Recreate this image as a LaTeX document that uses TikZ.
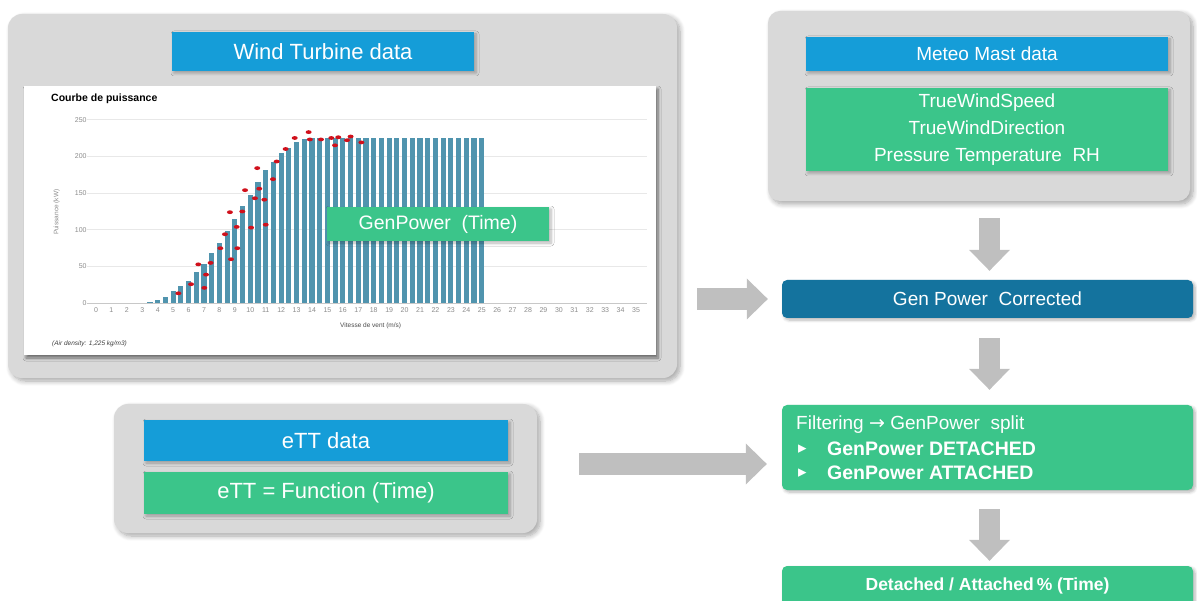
\documentclass[tikz,border=0pt]{standalone}
\usepackage{fontspec}
\setmainfont{Liberation Sans}
\newfontfamily\djv{DejaVu Sans}
\usetikzlibrary{arrows.meta,shadows.blur,calc}
\definecolor{cgrey}{HTML}{D9D9D9}
\definecolor{cblue}{HTML}{159DD8}
\definecolor{cgreen}{HTML}{3BC58A}
\definecolor{cdark}{HTML}{14739E}
\definecolor{carrow}{HTML}{BFBFBF}
\definecolor{cbar}{HTML}{5094AE}
\definecolor{cdot}{HTML}{D0101B}
\definecolor{cgrid}{HTML}{E8E8E8}
\definecolor{caxis}{HTML}{C8C8C8}
\definecolor{ctick}{HTML}{8C8C8C}
\begin{document}
\begin{tikzpicture}[x=1pt,y=-1pt,
  container/.style={fill=cgrey, draw=none, rounded corners=14pt, inner sep=0pt,
    blur shadow={shadow xshift=3pt, shadow yshift=-3pt, shadow blur radius=5pt, shadow blur steps=8, shadow opacity=35}},
  panel/.style={fill=white, draw=none, inner sep=0pt,
    blur shadow={shadow xshift=2pt, shadow yshift=-3pt, shadow blur radius=3pt, shadow blur steps=6, shadow opacity=50}},
  boxbase/.style={draw=none, inner sep=0pt, text=white, align=center,
    blur shadow={shadow xshift=2pt, shadow yshift=-2pt, shadow blur radius=3pt, shadow blur steps=6, shadow opacity=30}},
  bluebox/.style={boxbase, fill=cblue},
  greenbox/.style={boxbase, fill=cgreen},
  darkbox/.style={boxbase, fill=cdark, rounded corners=5pt},
  greenround/.style={boxbase, fill=cgreen, rounded corners=5pt},
  blockarrow/.style={draw=carrow, line width=21.5pt,
    -{Triangle[length=21pt, width=41pt, line width=0pt]}},
  ticklab/.style={font=\fontsize{7}{8}\selectfont, text=ctick, inner sep=0pt},
  reddot/.style={fill=cdot},
  bar/.style={fill=cbar},
]
\useasboundingbox (0,0) rectangle (1197,601);
\clip (0,0) rectangle (1197,601);

% containers
\node[container, minimum width=669pt, minimum height=364pt] (wt) at (342.5,196) {};
\node[container, minimum width=422pt, minimum height=190pt, rounded corners=12pt] (meteo) at (979,106) {};
\node[container, minimum width=423pt, minimum height=129pt] (ett) at (325.5,468.5) {};

% wind turbine
\node[bluebox, minimum width=302pt, minimum height=39pt, font=\fontsize{22}{26}\selectfont] (wtt) at (323,51.5) {Wind Turbine data};
\node[panel, minimum width=632pt, minimum height=269pt] (chart) at (340,220.5) {};
\node[anchor=west, inner sep=0pt, font=\fontsize{10.5}{12}\selectfont\bfseries] (ctitle) at (51,98.5) {Courbe de puissance};
\node[anchor=west, inner sep=0pt, text=black!75, font=\fontsize{6.5}{8}\selectfont\itshape] (air) at (52,344) {(Air density: 1,225 kg/m3)};

\begin{scope}[shift={(96,303.3)}, x=15.43pt, y=0.7347pt]
  \foreach \v in {50,100,...,250} \draw[cgrid, line width=0.7pt] (-0.6,\v) -- (35.7,\v);
  \foreach \h [count=\i from 0] in {1.4,4.5,9,17,24,31,42,53,68,82,99,115,132,148,165,181,193,205,212,219,223,225,
      225,225,225,225,225,225,225,225,225,225,225,225,225,225,225,225,225,225,225,225,225,225}
    \fill[bar] ({3.5+0.5*\i-0.165},0) rectangle ++(0.33,\h);
  \draw[caxis, line width=0.7pt] (-0.6,0) -- (35.7,0);
  \foreach \i in {0,...,35} \node[ticklab] (xt\i) at (\i,-9.5) {\i};
  \foreach \v in {0,50,...,250} \node[ticklab, anchor=east] (yt\v) at (-0.6,\v) {\v};
  \node[ticklab, rotate=90, font=\fontsize{6.5}{8}\selectfont] (ylab) at (-2.55,124) {Puissance (kW)};
  \node[ticklab, font=\fontsize{6.5}{8}\selectfont, text=black!70] (xlab) at (17.8,-31) {Vitesse de vent (m/s)};
  \foreach \a/\b in {5.34/13.6, 6.16/26, 6.63/53, 7.02/21, 7.13/39, 7.43/55, 8.06/75, 8.36/94,
      8.68/124, 8.75/60, 9.12/104, 9.16/75, 9.48/125, 9.66/154, 10.05/103, 10.3/143, 10.45/184,
      10.58/156, 10.91/141, 11.0/107, 11.47/169, 11.71/193, 12.29/210, 12.88/225, 13.78/233,
      13.86/223, 14.58/223, 15.25/225, 15.49/215, 15.7/226, 16.27/222, 16.5/227, 17.2/219}
    \fill[reddot] (\a,\b) ellipse [x radius=3pt, y radius=1.9pt];
\end{scope}

\node[greenbox, minimum width=222pt, minimum height=34pt, font=\fontsize{19.5}{22}\selectfont] (gpt) at (438,224) {GenPower~ (Time)};

% meteo
\node[bluebox, minimum width=362pt, minimum height=34pt, font=\fontsize{19}{22}\selectfont] (mmd) at (987,54) {Meteo Mast data};
\node[greenbox, minimum width=362pt, minimum height=83pt, font=\fontsize{19}{27}\selectfont] (mmv) at (987,129.5) {TrueWindSpeed\\TrueWindDirection\\Pressure Temperature~ RH};

% eTT
\node[bluebox, minimum width=364pt, minimum height=41pt, font=\fontsize{22}{26}\selectfont] (etd) at (326,440.5) {eTT data};
\node[greenbox, minimum width=364pt, minimum height=42pt, font=\fontsize{22}{26}\selectfont] (etf) at (326,493) {eTT = Function (Time)};

% right column
\node[darkbox, minimum width=411pt, minimum height=38pt, font=\fontsize{19}{22}\selectfont] (gpc) at (987.5,299) {Gen Power~ Corrected};
\node[greenround, minimum width=411pt, minimum height=85pt] (filt) at (987.5,447.5) {};
\node[anchor=west, inner sep=0pt, text=white, font=\fontsize{19}{22}\selectfont] (f1) at (796,425) {Filtering {\djv\fontsize{19}{22}\selectfont →} GenPower~ split};
\node[anchor=west, inner sep=0pt, text=white, font=\fontsize{17}{20}\selectfont\djv] (b1) at (798,449.5) {▸};
\node[anchor=west, inner sep=0pt, text=white, font=\fontsize{19.5}{22}\selectfont\bfseries] (f2) at (827,449) {GenPower DETACHED};
\node[anchor=west, inner sep=0pt, text=white, font=\fontsize{17}{20}\selectfont\djv] (b2) at (798,473.5) {▸};
\node[anchor=west, inner sep=0pt, text=white, font=\fontsize{19.5}{22}\selectfont\bfseries] (f3) at (827,473) {GenPower ATTACHED};
\node[greenround, minimum width=411pt, minimum height=40pt, font=\fontsize{17.5}{20}\selectfont\bfseries] (res) at (987.5,586) {Detached / Attached\,\% (Time)};

% arrows
\coordinate (a1s) at ($(wt.east |- gpc.west)+(20,0)$);
\coordinate (a1e) at ($(gpc.west)+(-14,0)$);
\draw[blockarrow] (a1s) -- (a1e);
\coordinate (d1s) at ($(gpc.north |- meteo.south)+(2,17)$);
\coordinate (d1e) at ($(gpc.north)+(2,-9)$);
\draw[blockarrow] (d1s) -- (d1e);
\coordinate (d2s) at ($(gpc.south)+(2,20)$);
\coordinate (d2e) at ($(filt.north)+(2,-15)$);
\draw[blockarrow] (d2s) -- (d2e);
\coordinate (d3s) at ($(filt.south)+(2,19)$);
\coordinate (d3e) at ($(res.north)+(2,-5)$);
\draw[blockarrow] (d3s) -- (d3e);
\coordinate (a2s) at ($(ett.east)+(42,-4.5)$);
\coordinate (a2e) at ($(a2s -| filt.west)+(-15,0)$);
\draw[blockarrow] (a2s) -- (a2e);
\end{tikzpicture}
\end{document}
